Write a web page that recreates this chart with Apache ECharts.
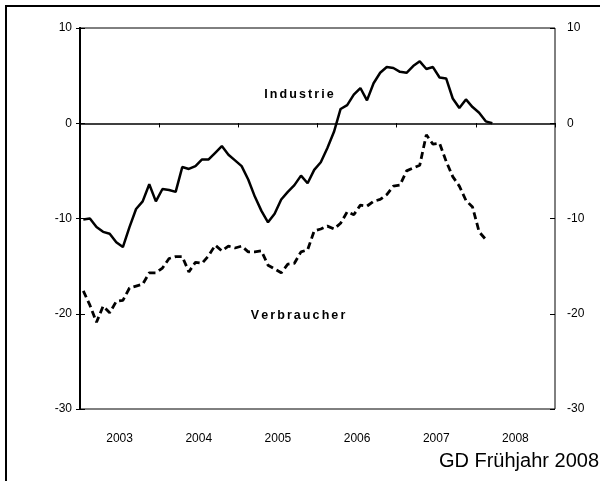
<!DOCTYPE html>
<html>
<head>
<meta charset="utf-8">
<script src="https://cdn.jsdelivr.net/npm/echarts@6/dist/echarts.min.js"></script>
<style>
  html, body { margin: 0; padding: 0; background: #fff; }
  #chart { width: 600px; height: 481px; }
</style>
</head>
<body>
<div id="chart"></div>
<script>
// monthly values, Jan 2003 onwards
const years = ["2003", "2004", "2005", "2006", "2007", "2008"];
const yTicks = [-30, -20, -10, 0, 10];
const industrie = [
  -10.1, -10.0, -10.9, -11.4, -11.6, -12.5, -13.0, -10.9, -9.0, -8.2, -6.4, -8.2,
  -6.9, -7.0, -7.2, -4.6, -4.8, -4.5, -3.8, -3.8, -3.1, -2.4, -3.3, -3.9,
  -4.5, -5.9, -7.7, -9.2, -10.4, -9.5, -8.0, -7.2, -6.5, -5.5, -6.3, -4.9,
  -4.1, -2.6, -0.9, 1.5, 1.9, 3.0, 3.7, 2.4, 4.2, 5.3, 5.9, 5.8,
  5.4, 5.3, 6.0, 6.5, 5.7, 5.9, 4.8, 4.7, 2.6, 1.6, 2.5, 1.7,
  1.1, 0.2, 0.0
];
const verbraucher = [
  -17.6, -19.1, -20.9, -19.2, -19.9, -18.7, -18.6, -17.3, -17.1, -16.9, -15.7, -15.7,
  -15.2, -14.2, -14.0, -14.0, -15.6, -14.6, -14.7, -13.9, -12.8, -13.4, -12.9, -13.1,
  -12.9, -13.5, -13.5, -13.4, -14.9, -15.3, -15.7, -14.8, -14.7, -13.5, -13.3, -11.3,
  -11.1, -10.8, -11.1, -10.5, -9.3, -9.6, -8.6, -8.7, -8.2, -8.0, -7.5, -6.6,
  -6.5, -5.0, -4.7, -4.4, -1.2, -2.2, -2.1, -4.0, -5.6, -6.6, -8.1, -8.8,
  -11.4, -12.2
];

const toPoints = arr => arr.map((v, i) => [i + 0.5, v]);
const font = "Liberation Sans, Arial, sans-serif";
// spread letters a little (no letterSpacing in canvas text here)
const spaced = s => s.split("").join("\u200A\u200A");

const chart = echarts.init(document.getElementById("chart"), null, { renderer: "canvas" });

const yAxisBase = {
  type: "value",
  min: yTicks[0],
  max: yTicks[yTicks.length - 1],
  interval: 10,
  splitLine: { show: false },
  axisLine: { show: true, lineStyle: { color: "#000", width: 2 } },
  axisTick: { show: true, length: 4, lineStyle: { color: "#000" } },
  axisLabel: { color: "#000", fontFamily: font, fontSize: 12, margin: 8 }
};

const monthAxis = (inside) => ({
  type: "value",
  min: 0,
  max: 72,
  interval: 12,
  gridIndex: 0,
  axisLine: { show: !inside, onZero: true, lineStyle: { color: "#000", width: 1.5 } },
  axisTick: { show: true, inside, length: 4, lineStyle: { color: "#000" } },
  axisLabel: { show: false },
  splitLine: { show: false }
});

chart.setOption({
  animation: false,
  backgroundColor: "#fff",
  grid: {
    left: 80, right: 45, top: 28, bottom: 72,
    show: true, borderColor: "#000", borderWidth: 1
  },
  xAxis: [
    monthAxis(false),
    monthAxis(true),
    {
      type: "category",
      data: years,
      position: "bottom",
      boundaryGap: true,
      axisLine: { show: false, onZero: false },
      axisTick: { show: false },
      axisLabel: { color: "#000", fontFamily: font, fontSize: 12, margin: 24 }
    }
  ],
  yAxis: [
    Object.assign({}, yAxisBase, { position: "left" }),
    Object.assign({}, yAxisBase, {
      position: "right",
      axisTick: { show: true, length: 5, lineStyle: { color: "#000" } },
      axisLabel: { color: "#000", fontFamily: font, fontSize: 12, margin: 12 }
    }),
    Object.assign({}, yAxisBase, {
      position: "right",
      axisLine: { show: false },
      axisLabel: { show: false },
      axisTick: { show: true, inside: true, length: 5, lineStyle: { color: "#000" } }
    })
  ],
  series: [
    {
      name: "Industrie",
      type: "line",
      data: toPoints(industrie),
      symbol: "none",
      lineStyle: { color: "#000", width: 2.5 },
      z: 5
    },
    {
      name: "Verbraucher",
      type: "line",
      data: toPoints(verbraucher),
      symbol: "none",
      lineStyle: { color: "#000", width: 2.8, type: [7, 4] },
      z: 5
    }
  ],
  graphic: [
    {
      type: "rect",
      shape: { x: 6, y: 6, width: 620, height: 500 },
      style: { fill: "none", stroke: "#000", lineWidth: 2 }
    },
    {
      type: "text",
      x: 299, y: 95,
      style: {
        text: spaced("Industrie"),
        font: "bold 12.5px " + font,
        fill: "#000",
        align: "center",
        verticalAlign: "middle"
      }
    },
    {
      type: "text",
      x: 298, y: 316,
      style: {
        text: spaced("Verbraucher"),
        font: "bold 12.5px " + font,
        fill: "#000",
        align: "center",
        verticalAlign: "middle"
      }
    },
    {
      type: "text",
      right: 1, top: 451,
      style: {
        text: "GD Frühjahr 2008",
        font: "20px " + font,
        fill: "#000"
      }
    }
  ]
});
</script>
</body>
</html>
